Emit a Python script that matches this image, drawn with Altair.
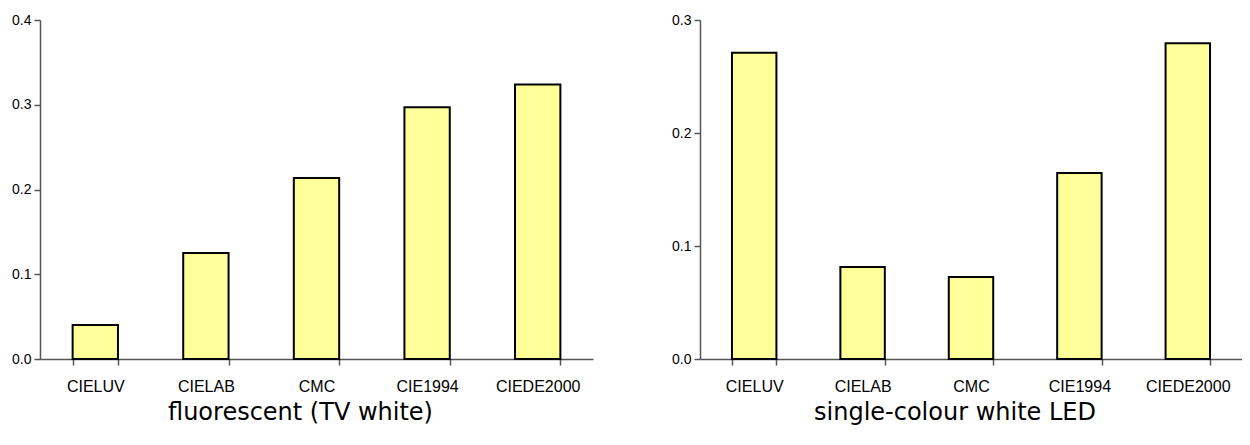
import altair as alt
import pandas as pd

methods = ["CIELUV", "CIELAB", "CMC", "CIE1994", "CIEDE2000"]
fluorescent_values = [0.040, 0.125, 0.2135, 0.297, 0.324]
led_values = [0.271, 0.0815, 0.0725, 0.1645, 0.2795]
left_ticks = [0.0, 0.1, 0.2, 0.3, 0.4]
right_ticks = [0.0, 0.1, 0.2, 0.3]
titles = ["fluorescent (TV white)", "single-colour white LED"]


def panel(values, ticks, title, width):
    df = pd.DataFrame({"method": methods, "value": values})
    return (
        alt.Chart(df)
        .mark_bar(fill="#FFFF99", stroke="black", strokeWidth=2)
        .encode(
            x=alt.X(
                "method:N",
                sort=methods,
                scale=alt.Scale(paddingInner=0.59, paddingOuter=0.295),
                axis=alt.Axis(
                    title=None,
                    labelAngle=0,
                    tickBand="extent",
                    labelPadding=13,
                    labelFontSize=16,
                ),
            ),
            y=alt.Y(
                "value:Q",
                scale=alt.Scale(domain=[ticks[0], ticks[-1]], nice=False),
                axis=alt.Axis(
                    title=None,
                    values=ticks,
                    format=".1f",
                    grid=False,
                    labelFontSize=14,
                    labelPadding=3,
                    minExtent=32,
                    maxExtent=32,
                ),
            ),
        )
        .properties(
            width=width,
            height=339,
            title=alt.TitleParams(
                title,
                orient="bottom",
                frame="bounds",
                anchor="middle",
                font="DejaVu Sans",
                fontSize=24,
                fontWeight="normal",
                color="black",
                offset=7,
            ),
        )
    )


chart = (
    alt.hconcat(
        panel(fluorescent_values, left_ticks, titles[0], 553),
        panel(led_values, right_ticks, titles[1], 542),
        spacing=75,
    )
    .properties(padding={"left": 0, "top": 5, "right": 0, "bottom": 5})
    .configure_view(stroke=None)
    .configure_axis(
        labelFont="Liberation Sans",
        labelColor="black",
        domainColor="#555555",
        tickColor="#555555",
        tickSize=6,
        domainWidth=1.5,
        tickWidth=1.5,
    )
)

chart.save("out.html", embed_options={"renderer": "svg", "actions": False})
